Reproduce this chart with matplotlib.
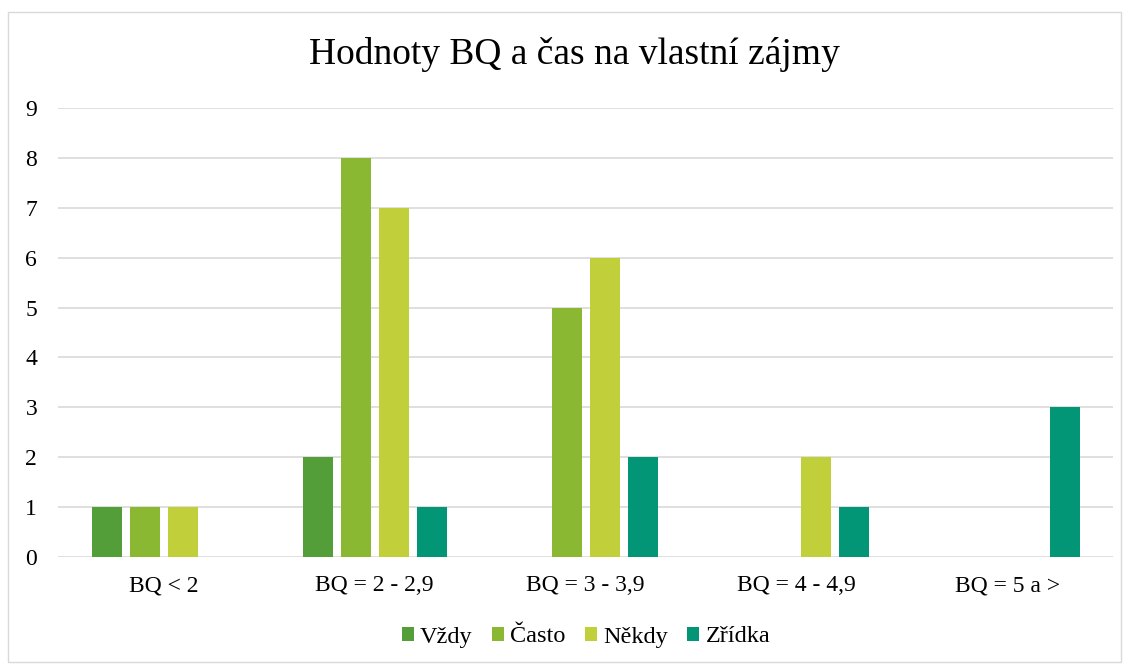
import numpy as np
import matplotlib.pyplot as plt
from matplotlib.patches import Rectangle

plt.rcParams["font.family"] = ["Liberation Serif", "DejaVu Serif"]

categories = ["BQ < 2", "BQ = 2 - 2,9", "BQ = 3 - 3,9", "BQ = 4 - 4,9", "BQ = 5 a >"]
series = ["Vždy", "Často", "Někdy", "Zřídka"]
vzdy = [1, 2, 0, 0, 0]
casto = [1, 8, 5, 0, 0]
nekdy = [1, 7, 6, 2, 0]
zridka = [0, 1, 2, 1, 3]
colors = ["#549E39", "#8AB833", "#C0CF3A", "#029676"]

fig = plt.figure(figsize=(11.29, 6.66), dpi=100)
ax = fig.add_axes([58 / 1129, 1 - 557 / 666, (1113 - 58) / 1129, (557 - 108) / 666])

# rámeček kolem grafu
fig.patches.append(Rectangle((8 / 1129, 4 / 666), 1113 / 1129, 650 / 666,
                             transform=fig.transFigure, fill=False,
                             edgecolor="#D9D9D9", linewidth=1))

x = np.arange(len(categories))
w = 30 / 211
step = 38 / 211
for i, (vals, name) in enumerate(zip([vzdy, casto, nekdy, zridka], series)):
    ax.bar(x + (i - 1.5) * step, vals, width=w, color=colors[i], label=name, zorder=3)

ax.set_xlim(-0.5, len(categories) - 0.5)
ax.set_ylim(0, 9)
ax.set_yticks(range(0, 10))
ax.set_xticks(x)
ax.set_xticklabels(categories)
ax.tick_params(length=0, labelsize=17, colors="#000000")
ax.tick_params(axis="y", pad=15)
ax.tick_params(axis="x", pad=13)
ax.grid(axis="y", color="#D9D9D9", linewidth=1.2, zorder=0)
for s in ax.spines.values():
    s.set_visible(False)

fig.text(0.509, 1 - 55 / 666, "Hodnoty BQ a čas na vlastní zájmy", ha="center", va="center", fontsize=27)
fig.legend(loc="center", bbox_to_anchor=(0.519, 1 - 637 / 666), ncol=4, frameon=False,
           fontsize=17.5, handlelength=0.5, handleheight=0.5, handletextpad=0.25,
           columnspacing=0.8)

fig.savefig("out.png", dpi=100)
